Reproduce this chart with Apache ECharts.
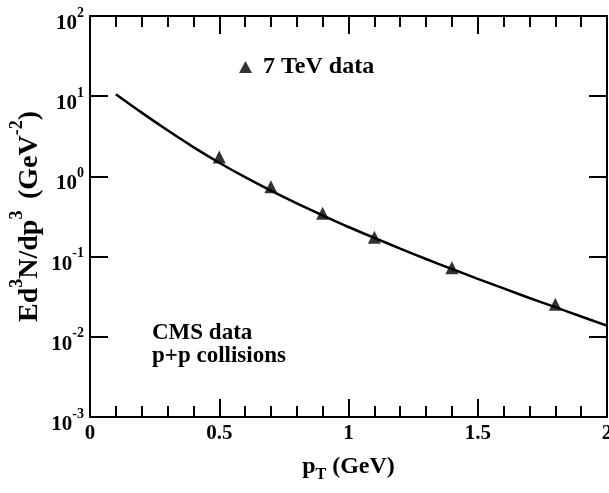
<!DOCTYPE html>
<html>
<head>
<meta charset="utf-8">
<script src="https://cdn.jsdelivr.net/npm/echarts@6/dist/echarts.min.js"></script>
<style>
  html, body { margin: 0; padding: 0; background: #fff; }
  #main { width: 609px; height: 493px; }
</style>
</head>
<body>
<div id="main"></div>
<script>
// model curve
const curvePt = [0.1, 0.2, 0.3, 0.4, 0.5, 0.6, 0.7, 0.8, 0.9, 1.0,
  1.1, 1.2, 1.3, 1.4, 1.5, 1.6, 1.7, 1.8, 1.9, 2.0]
const curveVal = [10.6, 6.24, 3.76, 2.32, 1.48, 0.977, 0.664, 0.461, 0.327, 0.234,
  0.171, 0.126, 0.0933, 0.070, 0.0528, 0.0401, 0.0305, 0.0234, 0.0179, 0.0138]
// 7 TeV data points
const dataPt = [0.5, 0.7, 0.9, 1.1, 1.4, 1.8]
const dataVal = [1.75, 0.745, 0.347, 0.174, 0.0728, 0.0254]
// axes
const xTicks = { min: 0, max: 2, step: 0.5 }
const yRange = { min: 0.001, max: 100 }

const FONT = 'Liberation Serif'
const base = { fontFamily: FONT, fontWeight: 'bold', color: '#000' }

const chart = echarts.init(document.getElementById('main'))

const xCommon = {
  type: 'value',
  min: xTicks.min,
  max: xTicks.max,
  interval: xTicks.step,
  axisLine: { onZero: false, lineStyle: { color: '#000', width: 2 } },
  axisTick: { inside: true, length: 18, lineStyle: { color: '#000', width: 2 } },
  minorTick: { show: true, splitNumber: 5, length: 11, lineStyle: { color: '#000', width: 2 } },
  splitLine: { show: false }
}
const yCommon = {
  type: 'log',
  logBase: 10,
  min: yRange.min,
  max: yRange.max,
  interval: 1,
  axisLine: { onZero: false, lineStyle: { color: '#000', width: 2 } },
  axisTick: { inside: true, length: 18, lineStyle: { color: '#000', width: 2 } },
  minorTick: { show: false },
  splitLine: { show: false }
}

const option = {
  animation: false,
  backgroundColor: '#fff',
  grid: { left: 90, right: 2, top: 16, bottom: 76, outerBoundsMode: 'none' },
  legend: {
    data: [{ name: '7 TeV data', icon: 'triangle' }],
    left: 234,
    top: 50,
    itemWidth: 13,
    itemHeight: 12,
    textStyle: Object.assign({ fontSize: 24, padding: [0, 0, 0, 6] }, base)
  },
  xAxis: [
    Object.assign({}, xCommon, {
      position: 'bottom',
      name: '{b|p}{sub|T}{b| (GeV)}',
      nameLocation: 'middle',
      nameGap: 38,
      nameMoveOverlap: false,
      nameTextStyle: {
        rich: {
          b: Object.assign({ fontSize: 24, lineHeight: 28, verticalAlign: 'top' }, base),
          sub: Object.assign({ fontSize: 16, lineHeight: 16, verticalAlign: 'bottom' }, base)
        }
      },
      axisLabel: Object.assign({ fontSize: 21, margin: 6 }, base)
    }),
    Object.assign({}, xCommon, {
      position: 'top',
      axisLabel: { show: false }
    })
  ],
  yAxis: [
    Object.assign({}, yCommon, {
      position: 'left',
      name: '{b|Ed}{s|3}{b|N/dp}{s|3 }{b| (GeV}{s|-2}{b|)}',
      nameLocation: 'middle',
      nameRotate: 90,
      nameGap: 46,
      nameMoveOverlap: false,
      nameTextStyle: {
        rich: {
          b: Object.assign({ fontSize: 28, lineHeight: 36, verticalAlign: 'bottom' }, base),
          s: Object.assign({ fontSize: 18, lineHeight: 17, verticalAlign: 'top' }, base)
        }
      },
      axisLabel: {
        margin: 6,
        padding: [8, 0, 0, 0],
        formatter: function (v) {
          const e = Math.round(Math.log10(v))
          return '{b|10}{s|' + e + '}'
        },
        rich: {
          b: Object.assign({ fontSize: 21, lineHeight: 28, verticalAlign: 'bottom' }, base),
          s: Object.assign({ fontSize: 14, lineHeight: 14, verticalAlign: 'top' }, base)
        }
      }
    }),
    Object.assign({}, yCommon, {
      position: 'right',
      axisLabel: { show: false }
    })
  ],
  graphic: [
    {
      type: 'text',
      left: 152,
      top: 322,
      style: {
        text: 'CMS data\np+p collisions',
        font: 'bold 23px "Liberation Serif"',
        lineHeight: 23,
        fill: '#000'
      }
    }
  ],
  series: [
    {
      name: 'model',
      type: 'line',
      data: curvePt.map((x, i) => [x, curveVal[i]]),
      smooth: 0.3,
      showSymbol: false,
      lineStyle: { color: '#000', width: 2.5 },
      z: 2
    },
    {
      name: '7 TeV data',
      type: 'scatter',
      data: dataPt.map((x, i) => [x, dataVal[i]]),
      symbol: 'triangle',
      symbolSize: 13,
      itemStyle: { color: '#000' },
      z: 3
    }
  ]
}

chart.setOption(option)
</script>
</body>
</html>
